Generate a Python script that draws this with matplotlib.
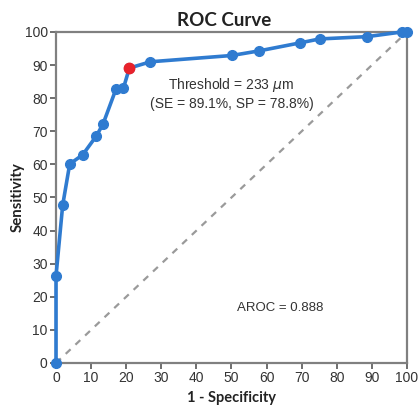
import matplotlib
matplotlib.use("Agg")
import matplotlib.pyplot as plt

# ROC points (1 - specificity, sensitivity), in %
fpr = [0, 0, 1.9, 3.9, 7.6, 11.5, 13.4, 17.1, 19.2, 20.9, 26.9, 50.1, 57.9,
       69.5, 75.1, 88.7, 98.5, 100]
tpr = [0, 26.3, 47.7, 60.1, 62.9, 68.6, 72.2, 82.8, 83.0, 89.1, 91.0, 92.9,
       94.3, 96.7, 97.9, 98.6, 100, 100]
best_x = 20.9
best_y = 89.1
ticks = list(range(0, 101, 10))

title_font = ['Lato', 'DejaVu Sans']
text_font = ['Liberation Sans', 'DejaVu Sans']

fig = plt.figure(figsize=(4.19, 4.08), dpi=100)
ax = fig.add_axes([0.1337, 0.1103, 0.8376, 0.8113])

ax.plot([0, 100], [0, 100], linestyle=(0, (3, 3)), color='#9a9a9a',
        linewidth=1.6, zorder=1)
ax.plot(fpr, tpr, color='#2f7bd0', linewidth=2.6, marker='o', markersize=7,
        clip_on=False, zorder=3)
ax.plot([best_x], [best_y], 'o', color='#e8222b', markersize=7.5,
        clip_on=False, zorder=4)

ax.set_xlim(0, 100)
ax.set_ylim(0, 100)
ax.set_xticks(ticks)
ax.set_yticks(ticks)
for lab in ax.get_xticklabels() + ax.get_yticklabels():
    lab.set_family(text_font)
    lab.set_fontsize(10)
    lab.set_color('#333333')
ax.tick_params(direction='out', length=4, width=1.2, color='#555555', pad=2)

for s in ax.spines.values():
    s.set_color('#808080')
    s.set_linewidth(1.6)

ax.set_title('ROC Curve', family=title_font, fontweight='bold',
             fontsize=13.5, color='#222222', pad=4, x=0.48)
ax.set_xlabel('1 - Specificity', family=title_font, fontweight='bold',
              fontsize=10.5, color='#222222', labelpad=4)
ax.set_ylabel('Sensitivity', family=title_font, fontweight='bold',
              fontsize=10.8, color='#222222', labelpad=0)

ax.text(50, 84, 'Threshold = 233 $\\mu$m', family=text_font, fontsize=10,
        color='#333333', ha='center', va='center')
ax.text(50, 78.3, '(SE = 89.1%, SP = 78.8%)', family=text_font,
        fontsize=10, color='#333333', ha='center', va='center')
ax.text(64, 16.6, 'AROC = 0.888', family=text_font, fontsize=9.5,
        color='#333333', ha='center', va='center')

fig.savefig('out.png', dpi=100)
